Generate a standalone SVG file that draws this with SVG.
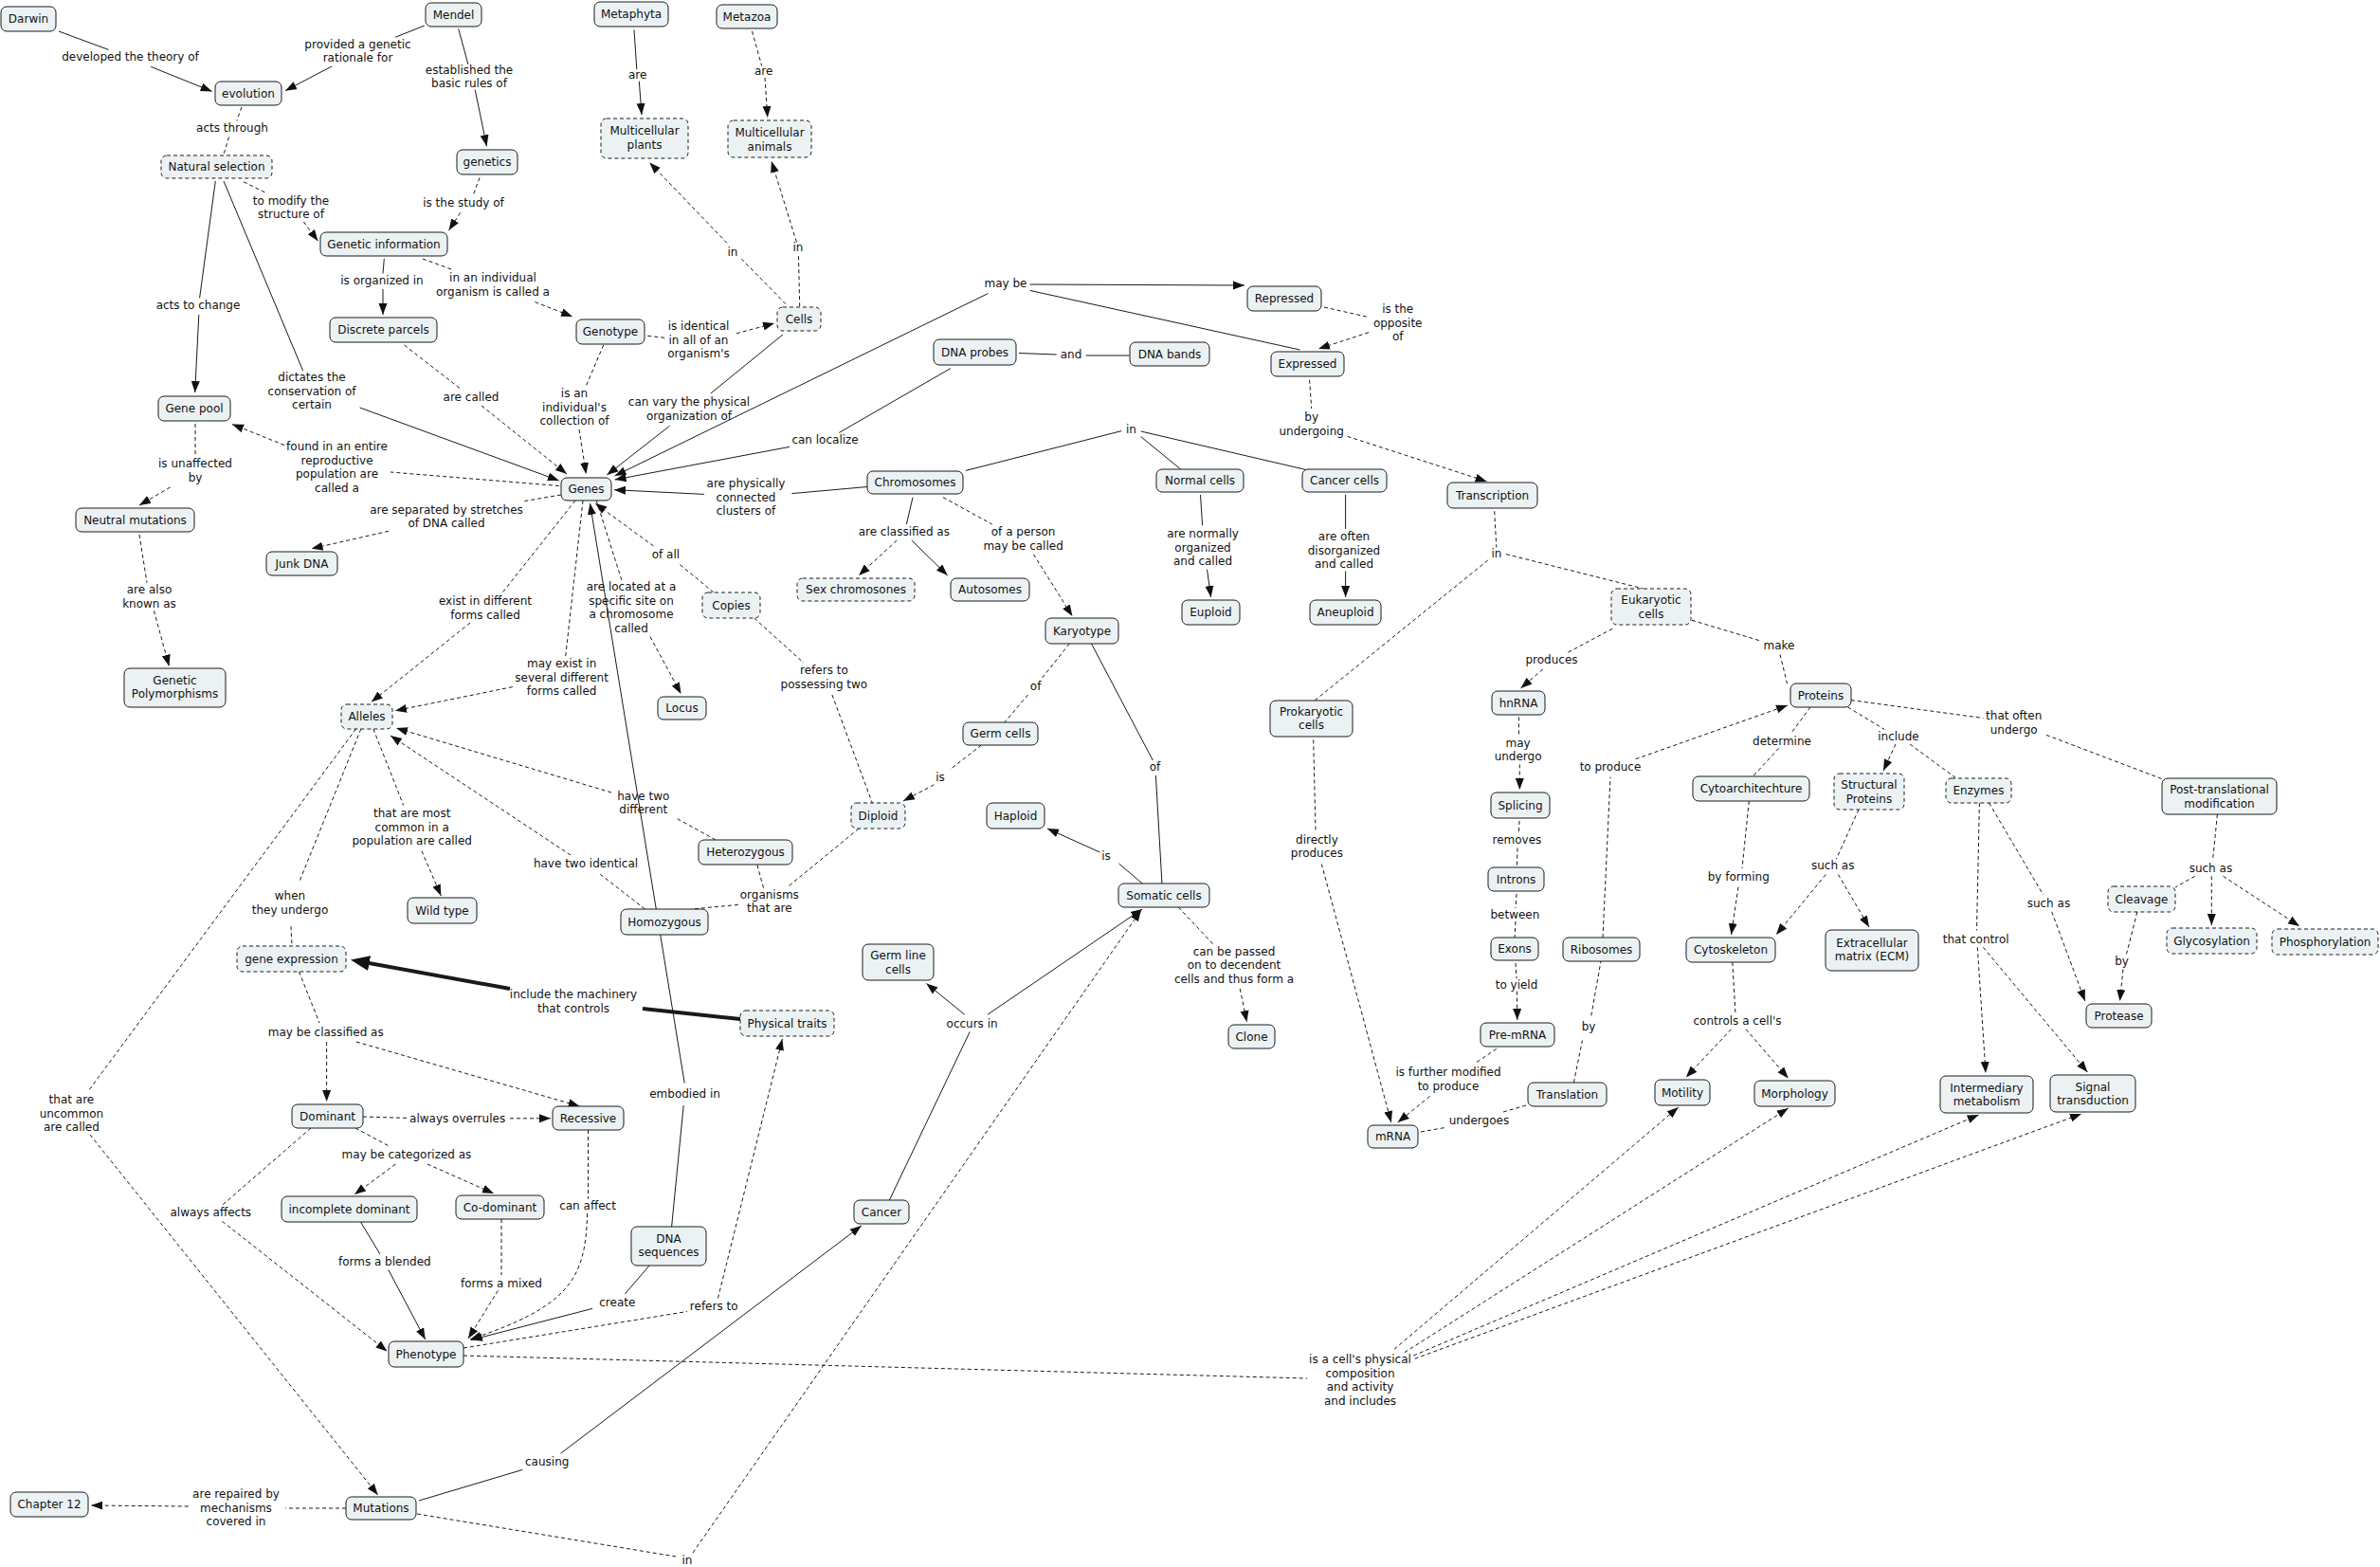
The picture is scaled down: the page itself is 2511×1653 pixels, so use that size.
<svg xmlns="http://www.w3.org/2000/svg" width="2511" height="1653" viewBox="0 0 2511 1653">
<defs>
<style>
.n rect{fill:#ecf2f4;stroke:#1a1a1a;stroke-width:1}
.d rect{stroke-dasharray:4 3}
text{font-family:"DejaVu Sans",Verdana,"Liberation Sans",sans-serif;font-size:12px;fill:#111;text-anchor:middle}
#conn line,#conn path{stroke:#1a1a1a;stroke-width:1;fill:none}
#conn .ds{stroke-dasharray:4 3}
#conn .a{marker-end:url(#ar)}
#conn .thick{stroke-width:4;marker-end:url(#arb)}
</style>
<marker id="ar" markerWidth="12" markerHeight="10" refX="12" refY="5" orient="auto" markerUnits="userSpaceOnUse"><path d="M0,0.5 L12,5 L0,9.5 z" fill="#111"/></marker>
<marker id="arb" markerWidth="20" markerHeight="16" refX="10" refY="8" orient="auto" markerUnits="userSpaceOnUse"><path d="M0,0 L20,8 L0,16 z" fill="#111"/></marker>
</defs>
<rect width="2511" height="1653" fill="#fff"/>
<g id="conn">
<!-- A -->
<line x1="62" y1="33" x2="114.7" y2="52.5"/><line class="a" x1="159.2" y1="70.4" x2="223.7" y2="96.4"/>
<!-- B -->
<line x1="447.8" y1="27" x2="417" y2="39.3"/><line class="a" x1="350" y1="70" x2="301" y2="95.7"/>
<!-- C -->
<line x1="483.7" y1="30.4" x2="493.9" y2="67.9"/><line class="a" x1="501.2" y1="94.6" x2="513.5" y2="154.3"/>
<!-- D -->
<line class="ds" x1="255" y1="113" x2="249.8" y2="127.5"/><line class="ds" x1="241.6" y1="144.6" x2="236" y2="162.5"/>
<!-- E -->
<line class="ds" x1="257" y1="191.8" x2="280.8" y2="203.6"/><line class="ds a" x1="320.4" y1="234" x2="335.5" y2="254.3"/>
<!-- F -->
<line x1="227.3" y1="191" x2="210.6" y2="314.3"/><line class="a" x1="209.8" y1="332" x2="205.7" y2="414"/>
<!-- G -->
<line x1="236" y1="191" x2="319.6" y2="391"/><line class="a" x1="379.6" y1="430" x2="589.8" y2="507"/>
<!-- H -->
<line class="ds" x1="506" y1="187.5" x2="498.8" y2="207"/><line class="ds a" x1="485.7" y1="224.3" x2="473.5" y2="242.9"/>
<!-- I -->
<line x1="405.3" y1="273" x2="404" y2="288.6"/><line class="a" x1="404" y1="305" x2="404" y2="332"/>
<!-- J -->
<line class="ds" x1="446" y1="273" x2="477.6" y2="284.6"/><line class="ds a" x1="564.5" y1="318.6" x2="604" y2="334"/>
<!-- K -->
<line class="ds" x1="426.5" y1="364" x2="485.7" y2="410"/><line class="ds a" x1="508" y1="428" x2="598" y2="500"/>
<!-- L -->
<line class="ds" x1="636.7" y1="364" x2="618.4" y2="407"/><line class="ds a" x1="611" y1="453" x2="618.4" y2="500"/>
<!-- M -->
<line class="ds" x1="683.3" y1="354.3" x2="702.4" y2="356.4"/><line class="ds a" x1="777" y1="351.8" x2="817" y2="341"/>
<!-- N -->
<line class="ds" x1="589.8" y1="512.5" x2="412" y2="498"/><line class="ds a" x1="300" y1="469.6" x2="245" y2="447.5"/>
<!-- O -->
<line class="ds" x1="206" y1="447" x2="206" y2="480"/><line class="ds a" x1="179.6" y1="514" x2="147" y2="533"/>
<!-- P -->
<line class="ds" x1="147" y1="564" x2="155" y2="614.7"/><line class="ds a" x1="162.4" y1="644.3" x2="178.4" y2="702.7"/>
<!-- Q -->
<line class="ds" x1="591.8" y1="522" x2="551" y2="529"/><line class="ds a" x1="410" y1="560.3" x2="328.6" y2="578.8"/>
<!-- R -->
<line x1="669" y1="31.4" x2="671.8" y2="73.2"/><line class="a" x1="674.3" y1="85.7" x2="677" y2="121"/>
<!-- S -->
<line class="ds" x1="793.5" y1="32.9" x2="803.7" y2="69.6"/><line class="ds a" x1="807" y1="82" x2="809.8" y2="124"/>
<!-- T -->
<line class="ds" x1="829" y1="320.7" x2="782.4" y2="273.2"/><line class="ds a" x1="767" y1="256.4" x2="685.3" y2="171.4"/>
<!-- U -->
<line class="ds" x1="843.7" y1="323.2" x2="842.4" y2="267.9"/><line class="ds a" x1="840.4" y1="255.4" x2="813.9" y2="170"/>
<!-- V -->
<line x1="826" y1="352.9" x2="749.8" y2="415"/><line class="a" x1="706.5" y1="449.3" x2="640.4" y2="501"/>
<!-- W may be -->
<line x1="1371.4" y1="369" x2="1086.5" y2="306.4"/><line class="a" x1="1086.5" y1="300" x2="1313" y2="301"/><line class="a" x1="1042.4" y1="309.6" x2="648.6" y2="502"/>
<!-- X and -->
<line x1="1075" y1="372.5" x2="1114.7" y2="374"/><line x1="1145.7" y1="375" x2="1191.4" y2="375"/>
<!-- Y -->
<line x1="1002.9" y1="388.6" x2="885.3" y2="456.4"/><line class="a" x1="833" y1="471.4" x2="648.6" y2="506"/>
<!-- Z -->
<line x1="915" y1="513.5" x2="835.4" y2="520.6"/><line class="a" x1="743" y1="521.4" x2="648" y2="516.7"/>
<!-- AA -->
<line x1="1019" y1="496.4" x2="1183.3" y2="454.6"/><line x1="1203.7" y1="460.7" x2="1245.7" y2="495"/><line x1="1203.7" y1="455" x2="1380" y2="496"/>
<!-- AB -->
<line x1="963" y1="524.6" x2="956.4" y2="553"/><line class="ds a" x1="946.2" y1="570" x2="906" y2="607"/><line class="a" x1="961.8" y1="570" x2="999.7" y2="607"/>
<!-- AC -->
<line class="ds" x1="995" y1="524.6" x2="1046.6" y2="553"/><line class="ds a" x1="1090.4" y1="584.7" x2="1131.4" y2="650"/>
<!-- AD -->
<line x1="1266.5" y1="522" x2="1268.6" y2="554.3"/><line class="a" x1="1273.5" y1="600.7" x2="1277.6" y2="630"/>
<!-- AE -->
<line x1="1419.6" y1="522" x2="1419.6" y2="557.9"/><line class="a" x1="1419.6" y1="602.5" x2="1419.6" y2="630"/>
<!-- AF -->
<line class="ds" x1="1397" y1="324" x2="1444" y2="334.6"/><line class="ds a" x1="1444" y1="350.7" x2="1391" y2="368"/>
<!-- AG -->
<line class="ds" x1="1381.6" y1="400.7" x2="1383.7" y2="431"/><line class="ds a" x1="1421.6" y1="460.4" x2="1568.6" y2="507.9"/>
<!-- AH -->
<line class="ds" x1="1576.7" y1="539.3" x2="1578.8" y2="577.5"/><line class="ds" x1="1569.8" y1="591" x2="1387" y2="739"/><line class="ds" x1="1589" y1="584.6" x2="1733.9" y2="621"/>
<!-- AI -->
<line class="ds" x1="1701.2" y1="663.2" x2="1654.3" y2="688.2"/><line class="ds a" x1="1627.8" y1="706" x2="1604.5" y2="726"/>
<!-- AJ -->
<line class="ds" x1="1785" y1="654.3" x2="1856.3" y2="675.7"/><line class="ds" x1="1878" y1="690.4" x2="1885.5" y2="721"/>
<!-- AK -->
<line class="ds" x1="1602.4" y1="756.4" x2="1602.4" y2="776.8"/><line class="ds a" x1="1603.3" y1="806.4" x2="1603.3" y2="833"/>
<!-- AL -->
<line class="ds" x1="1603" y1="866" x2="1602.4" y2="879"/><line class="ds" x1="1601" y1="894.6" x2="1600.4" y2="915"/>
<!-- AM -->
<line class="ds" x1="1600" y1="943" x2="1599" y2="958"/><line class="ds" x1="1599" y1="972" x2="1598" y2="989"/>
<!-- AN -->
<line class="ds" x1="1599" y1="1016" x2="1600" y2="1032"/><line class="ds a" x1="1600.4" y1="1045.7" x2="1600.8" y2="1076"/>
<!-- AO -->
<line class="ds" x1="1578.8" y1="1106.4" x2="1557.6" y2="1120.7"/><line class="ds a" x1="1508.6" y1="1156.4" x2="1474.7" y2="1184"/>
<!-- AP -->
<line class="ds" x1="1385.7" y1="780.4" x2="1388" y2="876.8"/><line class="ds a" x1="1394.3" y1="911.4" x2="1467.8" y2="1184"/>
<!-- AQ -->
<line class="ds" x1="1499" y1="1194" x2="1525.7" y2="1189.3"/><line class="ds" x1="1586" y1="1173" x2="1612.2" y2="1165.4"/>
<!-- AR -->
<line class="ds" x1="1660.4" y1="1142" x2="1669.4" y2="1097.5"/><line class="ds" x1="1678.8" y1="1071.4" x2="1689" y2="1014"/>
<!-- AS -->
<line class="ds" x1="1691" y1="989" x2="1699" y2="819.6"/><line class="ds a" x1="1725.7" y1="800.7" x2="1886" y2="744"/>
<!-- AT -->
<line class="ds" x1="1910" y1="746" x2="1890.4" y2="772.5"/><line class="ds" x1="1876.7" y1="789.3" x2="1849.4" y2="819"/>
<!-- AU -->
<line class="ds" x1="1845.3" y1="845" x2="1838" y2="916"/><line class="ds a" x1="1834" y1="935.7" x2="1826.5" y2="986"/>
<!-- AV -->
<line class="ds" x1="1949.6" y1="746" x2="1988.4" y2="769.6"/><line class="ds a" x1="2000" y1="785" x2="1987" y2="813"/><line class="ds" x1="2015" y1="785" x2="2064" y2="821"/>
<!-- AW -->
<line class="ds" x1="1953" y1="738.6" x2="2092.4" y2="757.5"/><line class="ds" x1="2159" y1="775.4" x2="2282" y2="822"/>
<!-- AX -->
<line class="ds" x1="1961" y1="854" x2="1937.3" y2="906.4"/><line class="ds a" x1="1926.3" y1="922.5" x2="1874" y2="986"/><line class="ds a" x1="1939.4" y1="922.5" x2="1972" y2="978"/>
<!-- AY -->
<line class="ds" x1="2098.6" y1="847" x2="2155.7" y2="944"/><line class="ds a" x1="2164.7" y1="961.8" x2="2199.8" y2="1056"/>
<!-- AZ -->
<line class="ds" x1="2088.4" y1="847" x2="2085.5" y2="981.4"/><line class="ds a" x1="2086.3" y1="999.3" x2="2095" y2="1132"/><line class="ds a" x1="2092.4" y1="999.3" x2="2202.4" y2="1131"/>
<!-- BA -->
<line class="ds" x1="2339.4" y1="859" x2="2334.5" y2="908"/><line class="ds" x1="2315.7" y1="924.3" x2="2295" y2="936"/><line class="ds a" x1="2333.3" y1="924.3" x2="2333.3" y2="976"/><line class="ds a" x1="2345.5" y1="924.3" x2="2426" y2="977"/>
<!-- BB -->
<line class="ds" x1="2254.9" y1="962" x2="2243.5" y2="1006.4"/><line class="ds a" x1="2240" y1="1022.5" x2="2236.5" y2="1056"/>
<!-- BC -->
<line class="ds" x1="1827.8" y1="1015" x2="1831" y2="1069.6"/><line class="ds a" x1="1826.5" y1="1085.7" x2="1778.8" y2="1136.4"/><line class="ds a" x1="1842" y1="1085.7" x2="1886.7" y2="1137.5"/>
<!-- BD -->
<line class="ds" x1="607" y1="528" x2="528.6" y2="627"/><line class="ds a" x1="496" y1="657" x2="391.8" y2="740.5"/>
<!-- BE -->
<line class="ds" x1="615" y1="528" x2="596.7" y2="692.4"/><line class="ds a" x1="540.8" y1="724.6" x2="417" y2="749.7"/>
<!-- BF -->
<line class="ds" x1="629.2" y1="528" x2="656" y2="612.3"/><line class="ds a" x1="686" y1="671.7" x2="718.5" y2="732"/>
<!-- BG -->
<line class="ds" x1="752.9" y1="625" x2="716.25" y2="594.6"/><line class="ds a" x1="689.5" y1="576" x2="628" y2="531"/>
<!-- BH -->
<line class="ds" x1="795.7" y1="652" x2="848" y2="699.3"/><line class="ds" x1="877.9" y1="733" x2="920.7" y2="848"/>
<!-- BI -->
<line class="ds" x1="1035.4" y1="786" x2="1002" y2="812"/><line class="ds a" x1="985.4" y1="827.8" x2="952.9" y2="845"/>
<!-- BJ -->
<line class="ds" x1="1128.3" y1="679" x2="1098" y2="717"/><line class="ds" x1="1084.5" y1="733" x2="1059" y2="763"/>
<!-- BK -->
<line x1="1151.5" y1="679" x2="1216.25" y2="802"/><line x1="1219.4" y1="818" x2="1226" y2="933"/>
<!-- BL -->
<line x1="1206.4" y1="933" x2="1180.5" y2="911"/><line class="a" x1="1160.4" y1="899" x2="1105" y2="874"/>
<!-- BM -->
<line class="ds" x1="1243.3" y1="957" x2="1279.6" y2="995.7"/><line class="ds a" x1="1308.2" y1="1042.9" x2="1315.5" y2="1078"/>
<!-- BN -->
<line x1="937.9" y1="1267" x2="1023.2" y2="1088.4"/><line class="a" x1="1017.6" y1="1070.2" x2="977.4" y2="1037.4"/><line class="a" x1="1042" y1="1070.2" x2="1205" y2="959"/>
<!-- BO -->
<line x1="442" y1="1583" x2="551.3" y2="1550.4"/><line class="a" x1="591.5" y1="1533.2" x2="908.8" y2="1293"/>
<!-- BP -->
<line class="ds" x1="440" y1="1597" x2="713" y2="1642"/><line class="ds a" x1="731" y1="1638" x2="1204" y2="960"/>
<!-- BQ -->
<line class="ds" x1="365" y1="1591" x2="301.3" y2="1591"/><line class="ds a" x1="198.7" y1="1589" x2="96" y2="1588"/>
<!-- BR -->
<line class="ds" x1="375.5" y1="769" x2="92.9" y2="1151.3"/><line class="ds a" x1="95" y1="1197" x2="398.7" y2="1577"/>
<!-- BS -->
<line class="ds" x1="393.9" y1="769" x2="425.7" y2="849.6"/><line class="ds a" x1="444.9" y1="897.7" x2="465.3" y2="945"/>
<!-- BT -->
<line class="ds" x1="380.8" y1="769" x2="315.5" y2="931"/><line class="ds" x1="307" y1="977.2" x2="308" y2="998"/>
<!-- have two identical -->
<line class="ds" x1="680.5" y1="959" x2="631.4" y2="920.8"/><line class="ds a" x1="602" y1="902" x2="412" y2="776"/>
<!-- have two different -->
<line class="ds" x1="755" y1="886" x2="714" y2="863.4"/><line class="ds a" x1="645" y1="836" x2="418" y2="768"/>
<!-- organisms that are -->
<line class="ds" x1="906" y1="874" x2="832.3" y2="934.6"/><line class="ds" x1="778.75" y1="954.4" x2="729.6" y2="959"/><line class="ds" x1="805.5" y1="936.6" x2="798.8" y2="912"/>
<!-- include the machinery -->
<line x1="781" y1="1075" x2="678" y2="1064" stroke-width="4" style="stroke-width:4"/><line class="thick" x1="538" y1="1043" x2="379.8" y2="1014.3"/>
<!-- BV -->
<line class="ds" x1="315.5" y1="1025" x2="337" y2="1079"/><line class="ds a" x1="344.6" y1="1099" x2="344.6" y2="1162"/><line class="ds a" x1="375.9" y1="1099" x2="611.6" y2="1167"/>
<!-- BW -->
<line class="ds" x1="383" y1="1178" x2="429.5" y2="1179.4"/><line class="ds a" x1="538" y1="1179.8" x2="581" y2="1179.8"/>
<!-- BX -->
<line class="ds" x1="375" y1="1190" x2="411.6" y2="1209.7"/><line class="ds a" x1="417.4" y1="1228" x2="374" y2="1260"/><line class="ds a" x1="450.9" y1="1228" x2="521" y2="1259"/>
<!-- BY -->
<line class="ds" x1="328" y1="1190" x2="233" y2="1272.6"/><line class="ds a" x1="234.4" y1="1288.3" x2="408.5" y2="1425.4"/>
<!-- BZ -->
<line x1="380.4" y1="1289" x2="401" y2="1323"/><line class="a" x1="409.8" y1="1339.5" x2="448.7" y2="1413"/>
<!-- CA -->
<line class="ds" x1="529" y1="1286" x2="529" y2="1345"/><line class="ds a" x1="525.4" y1="1361.4" x2="494" y2="1412"/>
<!-- CB -->
<line class="ds" x1="620.5" y1="1192" x2="620.5" y2="1264.6"/><path class="ds a" d="M619.6,1280 C618,1350 600,1378 496,1413"/>
<!-- CC -->
<line x1="685" y1="1335" x2="659.4" y2="1365"/><line class="a" x1="625" y1="1380.4" x2="497" y2="1413.5"/>
<!-- CD -->
<line class="ds" x1="489" y1="1422" x2="725" y2="1383.5"/><line class="ds a" x1="757.5" y1="1369.4" x2="825.4" y2="1096"/>
<!-- CE -->
<line class="ds" x1="489" y1="1430" x2="1379" y2="1454"/><line class="ds a" x1="1471" y1="1423.3" x2="1770.7" y2="1168"/><line class="ds a" x1="1481.8" y1="1426.7" x2="1886.7" y2="1169"/><line class="ds a" x1="1491.3" y1="1430" x2="2087.6" y2="1176"/><line class="ds a" x1="1492.6" y1="1433.3" x2="2196" y2="1175"/>
<!-- embodied in -->
<line x1="708.6" y1="1294" x2="721.2" y2="1166"/><line class="a" x1="722.2" y1="1142.5" x2="622.5" y2="531"/>

<!-- linking phrases -->
<text x="137.5" y="64">developed the theory of</text>
<text><tspan x="377.5" y="51">provided a genetic</tspan><tspan x="377.5" y="65.4">rationale for</tspan></text>
<text><tspan x="495" y="78">established the</tspan><tspan x="495" y="92">basic rules of</tspan></text>
<text x="672.7" y="83">are</text>
<text x="805.7" y="79.4">are</text>
<text x="245" y="139">acts through</text>
<text x="773" y="269.7">in</text>
<text x="842" y="264.7">in</text>
<text><tspan x="307" y="216">to modify the</tspan><tspan x="307" y="230.4">structure of</tspan></text>
<text x="489" y="218">is the study of</text>
<text x="403" y="300">is organized in</text>
<text><tspan x="520" y="297">in an individual</tspan><tspan x="520" y="311.5">organism is called a</tspan></text>
<text x="1061" y="303">may be</text>
<text><tspan x="1474.7" y="330">is the</tspan><tspan x="1474.7" y="344.7">opposite</tspan><tspan x="1474.7" y="359">of</tspan></text>
<text x="209" y="326">acts to change</text>
<text><tspan x="737" y="348">is identical</tspan><tspan x="737" y="362.6">in all of an</tspan><tspan x="737" y="377">organism's</tspan></text>
<text x="1130" y="378">and</text>
<text><tspan x="329" y="402">dictates the</tspan><tspan x="329" y="417">conservation of</tspan><tspan x="329" y="431">certain</tspan></text>
<text x="497" y="422.6">are called</text>
<text><tspan x="606" y="419">is an</tspan><tspan x="606" y="434">individual's</tspan><tspan x="606" y="448">collection of</tspan></text>
<text><tspan x="727" y="428">can vary the physical</tspan><tspan x="727" y="442.6">organization of</tspan></text>
<text><tspan x="1383.7" y="444">by</tspan><tspan x="1383.7" y="458.6">undergoing</tspan></text>
<text x="1193.5" y="457">in</text>
<text x="870.6" y="468">can localize</text>
<text><tspan x="355.5" y="474.7">found in an entire</tspan><tspan x="355.5" y="489.7">reproductive</tspan><tspan x="355.5" y="504">population are</tspan><tspan x="355.5" y="518.6">called a</tspan></text>
<text><tspan x="206" y="492.6">is unaffected</tspan><tspan x="206" y="507.6">by</tspan></text>
<text><tspan x="787" y="514">are physically</tspan><tspan x="787" y="528.6">connected</tspan><tspan x="787" y="543">clusters of</tspan></text>
<text><tspan x="471" y="542">are separated by stretches</tspan><tspan x="471" y="556">of DNA called</tspan></text>
<text x="953.8" y="565">are classified as</text>
<text><tspan x="1079.6" y="565.3">of a person</tspan><tspan x="1079.6" y="579.6">may be called</tspan></text>
<text><tspan x="1269" y="567">are normally</tspan><tspan x="1269" y="581.5">organized</tspan><tspan x="1269" y="596">and called</tspan></text>
<text><tspan x="1418" y="570">are often</tspan><tspan x="1418" y="584.6">disorganized</tspan><tspan x="1418" y="599">and called</tspan></text>
<text x="1579" y="587.6">in</text>
<text x="702.4" y="588.7">of all</text>
<text><tspan x="666" y="623">are located at a</tspan><tspan x="666" y="637.7">specific site on</tspan><tspan x="666" y="652.3">a chromosome</tspan><tspan x="666" y="667">called</tspan></text>
<text><tspan x="157.5" y="626">are also</tspan><tspan x="157.5" y="640.5">known as</tspan></text>
<text><tspan x="512" y="638">exist in different</tspan><tspan x="512" y="652.7">forms called</tspan></text>
<text x="1877" y="685">make</text>
<text x="1637" y="699.7">produces</text>
<text><tspan x="592.6" y="704">may exist in</tspan><tspan x="592.6" y="718.6">several different</tspan><tspan x="592.6" y="733">forms called</tspan></text>
<text><tspan x="869.4" y="710.9">refers to</tspan><tspan x="869.4" y="725.5">possessing two</tspan></text>
<text x="1092.6" y="727.5">of</text>
<text><tspan x="2124.7" y="759">that often</tspan><tspan x="2124.7" y="773.6">undergo</tspan></text>
<text x="2003" y="780.8">include</text>
<text x="1880" y="785.8">determine</text>
<text><tspan x="1601.6" y="788">may</tspan><tspan x="1601.6" y="802">undergo</tspan></text>
<text x="1218.5" y="813">of</text>
<text x="1699" y="813">to produce</text>
<text x="992" y="824.3">is</text>
<text><tspan x="678.75" y="844">have two</tspan><tspan x="678.75" y="858.3">different</tspan></text>
<text><tspan x="434.7" y="862">that are most</tspan><tspan x="434.7" y="877">common in a</tspan><tspan x="434.7" y="891.4">population are called</tspan></text>
<text><tspan x="1389.4" y="890">directly</tspan><tspan x="1389.4" y="904.4">produces</tspan></text>
<text x="1600.4" y="890.4">removes</text>
<text x="1167" y="906.6">is</text>
<text x="618" y="914.5">have two identical</text>
<text x="1933.7" y="916.9">such as</text>
<text x="2332.4" y="919.7">such as</text>
<text x="1834.3" y="929">by forming</text>
<text><tspan x="811.8" y="947.7">organisms</tspan><tspan x="811.8" y="962">that are</tspan></text>
<text><tspan x="306" y="949">when</tspan><tspan x="306" y="963.9">they undergo</tspan></text>
<text x="2161.4" y="956.9">such as</text>
<text x="1598.4" y="968.6">between</text>
<text x="2084.7" y="995">that control</text>
<text><tspan x="1302" y="1008">can be passed</tspan><tspan x="1302" y="1022">on to decendent</tspan><tspan x="1302" y="1037">cells and thus form a</tspan></text>
<text x="2238.6" y="1018">by</text>
<text x="1600" y="1042.6">to yield</text>
<text><tspan x="605" y="1053">include the machinery</tspan><tspan x="605" y="1067.5">that controls</tspan></text>
<text x="1833" y="1080.8">controls a cell's</text>
<text x="1025.6" y="1083.7">occurs in</text>
<text x="1676" y="1087">by</text>
<text x="343.75" y="1092.8">may be classified as</text>
<text><tspan x="1528" y="1135">is further modified</tspan><tspan x="1528" y="1149.7">to produce</tspan></text>
<text x="722.6" y="1157.8">embodied in</text>
<text><tspan x="75.4" y="1163.7">that are</tspan><tspan x="75.4" y="1178.7">uncommon</tspan><tspan x="75.4" y="1193">are called</tspan></text>
<text x="482.6" y="1183.8">always overrules</text>
<text x="1560.4" y="1186">undergoes</text>
<text x="429" y="1221.8">may be categorized as</text>
<text x="620" y="1275.9">can affect</text>
<text x="222.3" y="1283.2">always affects</text>
<text x="405.8" y="1334.7">forms a blended</text>
<text x="529" y="1357.8">forms a mixed</text>
<text x="651.3" y="1377.5">create</text>
<text x="753.2" y="1381.7">refers to</text>
<text><tspan x="1435" y="1438">is a cell's physical</tspan><tspan x="1435" y="1452.7">composition</tspan><tspan x="1435" y="1467.3">and activity</tspan><tspan x="1435" y="1482">and includes</tspan></text>
<text x="577.2" y="1545.6">causing</text>
<text><tspan x="249" y="1580">are repaired by</tspan><tspan x="249" y="1594.6">mechanisms</tspan><tspan x="249" y="1609.2">covered in</tspan></text>
<text x="725" y="1650">in</text>
</g>

<g id="n-darwin" class="n"><rect x="1" y="7" width="58" height="26" rx="6"/><text x="30" y="24">Darwin</text></g>
<g id="n-mendel" class="n"><rect x="449" y="3" width="59" height="25" rx="6"/><text x="478.5" y="19.5">Mendel</text></g>
<g id="n-metaphyta" class="n"><rect x="627" y="2" width="78" height="26" rx="6"/><text x="666" y="19">Metaphyta</text></g>
<g id="n-metazoa" class="n"><rect x="756" y="5" width="64" height="25" rx="6"/><text x="788" y="21.5">Metazoa</text></g>
<g id="n-evolution" class="n"><rect x="227" y="86" width="70" height="25" rx="6"/><text x="262" y="102.5">evolution</text></g>
<g id="n-natsel" class="n d"><rect x="170" y="164" width="117" height="24" rx="6"/><text x="228.5" y="180">Natural selection</text></g>
<g id="n-genetics" class="n"><rect x="482" y="158" width="64" height="26" rx="6"/><text x="514" y="175">genetics</text></g>
<g id="n-mplants" class="n d"><rect x="634" y="125" width="92" height="42" rx="6"/><text><tspan x="680" y="142">Multicellular</tspan><tspan x="680" y="156.5">plants</tspan></text></g>
<g id="n-manimals" class="n d"><rect x="768" y="127" width="88" height="39" rx="6"/><text><tspan x="812" y="143.6">Multicellular</tspan><tspan x="812" y="158.6">animals</tspan></text></g>
<g id="n-geninfo" class="n"><rect x="338" y="245" width="134" height="25" rx="6"/><text x="405" y="261.5">Genetic information</text></g>
<g id="n-discrete" class="n"><rect x="348" y="335" width="113" height="26" rx="6"/><text x="404.5" y="352">Discrete parcels</text></g>
<g id="n-genotype" class="n"><rect x="608" y="337" width="72" height="26" rx="6"/><text x="644" y="354">Genotype</text></g>
<g id="n-cells" class="n d"><rect x="820" y="324" width="46" height="25" rx="6"/><text x="843" y="340.5">Cells</text></g>
<g id="n-dnaprobes" class="n"><rect x="985" y="358" width="87" height="27" rx="6"/><text x="1028.5" y="375.5">DNA probes</text></g>
<g id="n-dnabands" class="n"><rect x="1192" y="361" width="84" height="25" rx="6"/><text x="1234" y="377.5">DNA bands</text></g>
<g id="n-repressed" class="n"><rect x="1316" y="302" width="78" height="26" rx="6"/><text x="1355" y="319">Repressed</text></g>
<g id="n-expressed" class="n"><rect x="1341" y="371" width="77" height="26" rx="6"/><text x="1379.5" y="388">Expressed</text></g>
<g id="n-genepool" class="n"><rect x="167" y="418" width="76" height="26" rx="6"/><text x="205" y="435">Gene pool</text></g>
<g id="n-genes" class="n"><rect x="592" y="504" width="53" height="24" rx="6"/><text x="618.5" y="520">Genes</text></g>
<g id="n-chromosomes" class="n"><rect x="915" y="497" width="101" height="24" rx="6"/><text x="965.5" y="513">Chromosomes</text></g>
<g id="n-normalcells" class="n"><rect x="1220" y="495" width="92" height="24" rx="6"/><text x="1266" y="511">Normal cells</text></g>
<g id="n-cancercells" class="n"><rect x="1374" y="495" width="89" height="24" rx="6"/><text x="1418.5" y="511">Cancer cells</text></g>
<g id="n-transcription" class="n"><rect x="1527" y="509" width="95" height="27" rx="6"/><text x="1574.5" y="526.5">Transcription</text></g>
<g id="n-neutral" class="n"><rect x="80" y="536" width="125" height="25" rx="6"/><text x="142.5" y="552.5">Neutral mutations</text></g>
<g id="n-junk" class="n"><rect x="281" y="582" width="75" height="25" rx="6"/><text x="318.5" y="598.5">Junk DNA</text></g>
<g id="n-sexchrom" class="n d"><rect x="841" y="610" width="124" height="24" rx="6"/><text x="903" y="626">Sex chromosones</text></g>
<g id="n-autosomes" class="n"><rect x="1003" y="610" width="83" height="24" rx="6"/><text x="1044.5" y="626">Autosomes</text></g>
<g id="n-copies" class="n d"><rect x="741" y="625" width="61" height="27" rx="6"/><text x="771.5" y="642.5">Copies</text></g>
<g id="n-euploid" class="n"><rect x="1247" y="633" width="61" height="26" rx="6"/><text x="1277.5" y="650">Euploid</text></g>
<g id="n-aneuploid" class="n"><rect x="1382" y="633" width="75" height="26" rx="6"/><text x="1419.5" y="650">Aneuploid</text></g>
<g id="n-eukaryotic" class="n d"><rect x="1700" y="621" width="84" height="38" rx="6"/><text><tspan x="1742" y="637">Eukaryotic</tspan><tspan x="1742" y="651.5">cells</tspan></text></g>
<g id="n-karyotype" class="n"><rect x="1103" y="652" width="77" height="27" rx="6"/><text x="1141.5" y="669.5">Karyotype</text></g>
<g id="n-polymorph" class="n"><rect x="131" y="705" width="107" height="41" rx="6"/><text><tspan x="184.5" y="721.5">Genetic</tspan><tspan x="184.5" y="736.3">Polymorphisms</tspan></text></g>
<g id="n-proteins" class="n"><rect x="1889" y="721" width="64" height="25" rx="6"/><text x="1921" y="737.5">Proteins</text></g>
<g id="n-hnrna" class="n"><rect x="1574" y="729" width="56" height="25" rx="6"/><text x="1602" y="745.5">hnRNA</text></g>
<g id="n-locus" class="n"><rect x="694" y="735" width="51" height="24" rx="6"/><text x="719.5" y="751">Locus</text></g>
<g id="n-alleles" class="n d"><rect x="360" y="743" width="54" height="26" rx="6"/><text x="387" y="760">Alleles</text></g>
<g id="n-prokaryotic" class="n"><rect x="1340" y="739" width="87" height="38" rx="6"/><text><tspan x="1383.5" y="754.7">Prokaryotic</tspan><tspan x="1383.5" y="769.4">cells</tspan></text></g>
<g id="n-germcells" class="n"><rect x="1016" y="762" width="79" height="24" rx="6"/><text x="1055.5" y="778">Germ cells</text></g>
<g id="n-structural" class="n d"><rect x="1935" y="816" width="74" height="38" rx="6"/><text><tspan x="1972" y="832">Structural</tspan><tspan x="1972" y="846.5">Proteins</tspan></text></g>
<g id="n-cytoarch" class="n"><rect x="1786" y="819" width="123" height="26" rx="6"/><text x="1847.5" y="836">Cytoarchitechture</text></g>
<g id="n-enzymes" class="n d"><rect x="2053" y="821" width="69" height="26" rx="6"/><text x="2087.5" y="838">Enzymes</text></g>
<g id="n-ptm" class="n"><rect x="2281" y="821" width="121" height="38" rx="6"/><text><tspan x="2341.5" y="837">Post-translational</tspan><tspan x="2341.5" y="851.5">modification</tspan></text></g>
<g id="n-splicing" class="n"><rect x="1573" y="836" width="62" height="27" rx="6"/><text x="1604" y="853.5">Splicing</text></g>
<g id="n-diploid" class="n d"><rect x="898" y="847" width="57" height="27" rx="6"/><text x="926.5" y="864.5">Diploid</text></g>
<g id="n-haploid" class="n"><rect x="1041" y="847" width="61" height="27" rx="6"/><text x="1071.5" y="864.5">Haploid</text></g>
<g id="n-hetero" class="n"><rect x="737" y="886" width="99" height="26" rx="6"/><text x="786.5" y="903">Heterozygous</text></g>
<g id="n-introns" class="n"><rect x="1570" y="915" width="59" height="25" rx="6"/><text x="1599.5" y="931.5">Introns</text></g>
<g id="n-somatic" class="n"><rect x="1180" y="932" width="96" height="25" rx="6"/><text x="1228" y="948.5">Somatic cells</text></g>
<g id="n-cleavage" class="n d"><rect x="2224" y="935" width="71" height="27" rx="6"/><text x="2259.5" y="952.5">Cleavage</text></g>
<g id="n-wildtype" class="n"><rect x="430" y="947" width="73" height="27" rx="6"/><text x="466.5" y="964.5">Wild type</text></g>
<g id="n-homo" class="n"><rect x="655" y="959" width="92" height="27" rx="6"/><text x="701" y="976.5">Homozygous</text></g>
<g id="n-glyco" class="n d"><rect x="2286" y="979" width="95" height="27" rx="6"/><text x="2333.5" y="996.5">Glycosylation</text></g>
<g id="n-phospho" class="n d"><rect x="2397" y="980" width="112" height="27" rx="6"/><text x="2453" y="997.5">Phosphorylation</text></g>
<g id="n-ecm" class="n"><rect x="1926" y="981" width="98" height="43" rx="6"/><text><tspan x="1975" y="998.6">Extracellular</tspan><tspan x="1975" y="1013.3">matrix (ECM)</tspan></text></g>
<g id="n-exons" class="n"><rect x="1573" y="989" width="50" height="24" rx="6"/><text x="1598" y="1005">Exons</text></g>
<g id="n-ribosomes" class="n"><rect x="1649" y="989" width="81" height="25" rx="6"/><text x="1689.5" y="1005.5">Ribosomes</text></g>
<g id="n-cytoskeleton" class="n"><rect x="1779" y="989" width="94" height="26" rx="6"/><text x="1826" y="1006">Cytoskeleton</text></g>
<g id="n-geneexpr" class="n d"><rect x="250" y="998" width="115" height="27" rx="6"/><text x="307.5" y="1015.5">gene expression</text></g>
<g id="n-germline" class="n"><rect x="910" y="996" width="75" height="38" rx="6"/><text><tspan x="947.5" y="1012">Germ line</tspan><tspan x="947.5" y="1026.8">cells</tspan></text></g>
<g id="n-protease" class="n"><rect x="2201" y="1059" width="69" height="25" rx="6"/><text x="2235.5" y="1075.5">Protease</text></g>
<g id="n-phystraits" class="n d"><rect x="781" y="1066" width="99" height="27" rx="6"/><text x="830.5" y="1083.5">Physical traits</text></g>
<g id="n-premrna" class="n"><rect x="1562" y="1079" width="78" height="25" rx="6"/><text x="1601" y="1095.5">Pre-mRNA</text></g>
<g id="n-clone" class="n"><rect x="1296" y="1081" width="49" height="25" rx="6"/><text x="1320.5" y="1097.5">Clone</text></g>
<g id="n-motility" class="n"><rect x="1746" y="1139" width="58" height="27" rx="6"/><text x="1775" y="1156.5">Motility</text></g>
<g id="n-morphology" class="n"><rect x="1851" y="1140" width="85" height="27" rx="6"/><text x="1893.5" y="1157.5">Morphology</text></g>
<g id="n-translation" class="n"><rect x="1612" y="1142" width="83" height="25" rx="6"/><text x="1653.5" y="1158.5">Translation</text></g>
<g id="n-intermed" class="n"><rect x="2047" y="1135" width="98" height="39" rx="6"/><text><tspan x="2096" y="1151.7">Intermediary</tspan><tspan x="2096" y="1166">metabolism</tspan></text></g>
<g id="n-signal" class="n"><rect x="2163" y="1134" width="90" height="39" rx="6"/><text><tspan x="2208" y="1151">Signal</tspan><tspan x="2208" y="1165">transduction</tspan></text></g>
<g id="n-dominant" class="n"><rect x="308" y="1165" width="75" height="25" rx="6"/><text x="345.5" y="1181.5">Dominant</text></g>
<g id="n-recessive" class="n"><rect x="583" y="1167" width="75" height="25" rx="6"/><text x="620.5" y="1183.5">Recessive</text></g>
<g id="n-mrna" class="n"><rect x="1443" y="1187" width="53" height="24" rx="6"/><text x="1469.5" y="1203">mRNA</text></g>
<g id="n-incomplete" class="n"><rect x="297" y="1262" width="143" height="27" rx="6"/><text x="368.5" y="1279.5">incomplete dominant</text></g>
<g id="n-codominant" class="n"><rect x="481" y="1261" width="93" height="25" rx="6"/><text x="527.5" y="1277.5">Co-dominant</text></g>
<g id="n-cancer" class="n"><rect x="901" y="1266" width="58" height="25" rx="6"/><text x="930" y="1282.5">Cancer</text></g>
<g id="n-dnaseq" class="n"><rect x="666" y="1294" width="79" height="41" rx="6"/><text><tspan x="705.5" y="1310.6">DNA</tspan><tspan x="705.5" y="1325">sequences</tspan></text></g>
<g id="n-phenotype" class="n"><rect x="410" y="1415" width="79" height="27" rx="6"/><text x="449.5" y="1432.5">Phenotype</text></g>
<g id="n-chapter12" class="n"><rect x="11" y="1574" width="82" height="26" rx="6"/><text x="52" y="1591">Chapter 12</text></g>
<g id="n-mutations" class="n"><rect x="365" y="1579" width="74" height="24" rx="6"/><text x="402" y="1595">Mutations</text></g>
</svg>
